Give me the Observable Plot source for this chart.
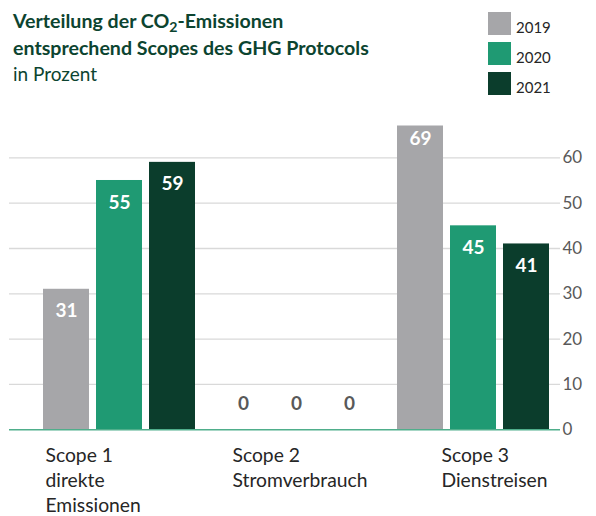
<!DOCTYPE html>
<html><head><meta charset="utf-8">
<script src="https://cdn.jsdelivr.net/npm/d3@7"></script>
<script src="https://cdn.jsdelivr.net/npm/@observablehq/plot@0.6"></script>
<style>
body{margin:0;background:#fff;font-family:Lato,sans-serif;}
#wrap{position:relative;width:596px;height:516px;overflow:hidden;}
#head{position:relative;height:100px;}
.t{position:absolute;left:13px;white-space:nowrap;color:#0c4430;}
.tb{font-weight:bold;font-size:19.6px;line-height:23px;}
.sub{font-size:19px;line-height:22.8px;font-weight:normal;}
.lg{position:absolute;left:488px;width:23px;height:23px;}
.lt{position:absolute;left:516px;font-size:15px;line-height:18px;color:#262626;}
#plot svg{display:block;}
</style></head><body>
<div id="wrap"><div id="head"></div><div id="plot"></div></div>
<script>
const titleLine1 = "Verteilung der CO<span style=\"font-size:0.72em;position:relative;top:0.25em\">2</span>-Emissionen";
const titleLine2 = "entsprechend Scopes des GHG Protocols";
const subtitle = "in Prozent";
const scopes = ["Scope 1", "Scope 2", "Scope 3"];
const scopeLabels = ["Scope 1\ndirekte\nEmissionen", "Scope 2\nStromverbrauch", "Scope 3\nDienstreisen"];
const years = ["2019", "2020", "2021"];
const colors = ["#a6a6a9", "#1f9a73", "#0b3d2c"];
const values2019 = [31, 0, 69];
const values2020 = [55, 0, 45];
const values2021 = [59, 0, 41];
const yTicks = [0, 10, 20, 30, 40, 50, 60];

// header
const head = document.getElementById("head");
head.innerHTML =
  `<div class="t tb" style="top:9.2px">${titleLine1}</div>` +
  `<div class="t tb" style="top:35.9px">${titleLine2}</div>` +
  `<div class="t sub" style="top:63px">${subtitle}</div>` +
  years.map((y, k) =>
    `<div class="lg" style="top:${12 + 30 * k}px;background:${colors[k]}"></div>` +
    `<div class="lt" style="top:${17.5 + 30 * k}px">${y}</div>`).join("");

const series = [values2019, values2020, values2021];
const data = [];
years.forEach((yr, k) => scopes.forEach((s, i) => data.push({scope: s, year: yr, value: series[k][i]})));
const labelData = scopes.map((s, i) => ({scope: s, label: scopeLabels[i]}));

const offsets = [-53, 0, 53];
const labelDx = [-74, -64, -32];

const marks = [
  Plot.ruleY(yTicks.filter(d => d > 0), {stroke: "#d9d9d9", strokeWidth: 1.3}),
  ...years.map((yr, k) => Plot.barY(data.filter(d => d.year === yr), {
    x: "scope", y: "value", fill: colors[k], dx: offsets[k], clip: true
  })),
  Plot.ruleY([0], {stroke: "#4fae8b", strokeWidth: 1.5}),
  ...years.map((yr, k) => Plot.text(data.filter(d => d.year === yr && d.value > 0), {
    x: "scope", y: "value", text: d => String(d.value), dx: offsets[k], dy: 22,
    fill: "white", fontWeight: "bold", fontSize: 19, lineAnchor: "middle"
  })),
  ...years.map((yr, k) => Plot.text(data.filter(d => d.year === yr && d.value === 0), {
    x: "scope", y: "value", text: d => String(d.value), dx: offsets[k], dy: -26,
    fill: "#595959", fontWeight: "bold", fontSize: 19, lineAnchor: "middle"
  })),
  ...scopes.map((s, i) => Plot.text(labelData.filter(d => d.scope === s), {
    x: "scope", text: "label", frameAnchor: "bottom", textAnchor: "start", lineAnchor: "top",
    dx: labelDx[i], dy: 15, lineHeight: 1.29, fontSize: 19.3, fill: "#262626"
  }))
];

const chart = Plot.plot({
  width: 596,
  height: 416,
  marginTop: 25.6,
  marginBottom: 86.7,
  marginLeft: 9,
  marginRight: 36,
  style: {fontFamily: "Lato, sans-serif", fontSize: "17px", color: "#595959", background: "white"},
  x: {domain: scopes, range: [95, 496], paddingInner: 0.7408, paddingOuter: 0, axis: null},
  y: {domain: [0, 67], axis: "right", ticks: yTicks, tickSize: 0, tickPadding: 2, label: null},
  marks
});
document.getElementById("plot").appendChild(chart);
</script>
</body></html>
